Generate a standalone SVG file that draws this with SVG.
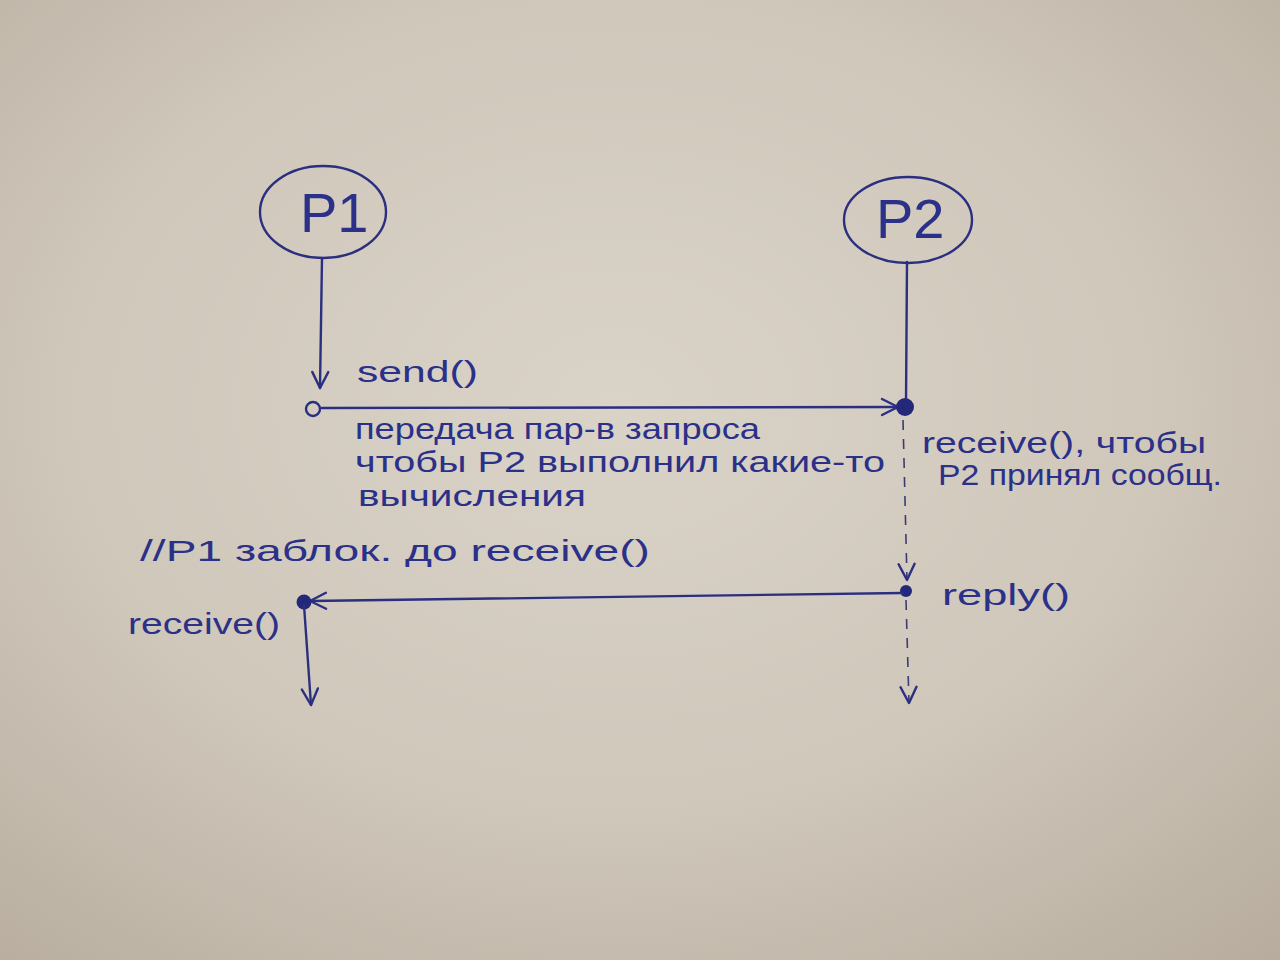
<svg xmlns="http://www.w3.org/2000/svg" width="1280" height="960" viewBox="0 0 1280 960">
  <defs>
    <radialGradient id="paper" cx="0.48" cy="0.42" r="0.78">
      <stop offset="0" stop-color="#dad3c8"/>
      <stop offset="0.55" stop-color="#cfc7ba"/>
      <stop offset="1" stop-color="#b7ac9e"/>
    </radialGradient>
    <marker id="open" viewBox="0 0 20 20" refX="18" refY="10" markerWidth="20" markerHeight="20" markerUnits="userSpaceOnUse" orient="auto">
      <path d="M2 2 L18 10 L2 18" fill="none" stroke="#2b2f80" stroke-width="2.4" stroke-linecap="round" stroke-linejoin="round"/>
    </marker>
    <style>
      .ink { stroke: #2b2f80; stroke-width: 2.4; fill: none; stroke-linecap: round; }
      .dash { stroke: #3b3d70; stroke-width: 1.6; fill: none; stroke-dasharray: 10 9; }
      .dot { fill: #23287a; }
      .t { font-family: "Liberation Sans", "DejaVu Sans", sans-serif; fill: #2b3088; }
      .big { font-size: 56px; }
      .lbl { font-size: 30px; }
    </style>
  </defs>
  <rect x="0" y="0" width="1280" height="960" fill="url(#paper)"/>

  <g id="P1">
    <ellipse cx="323" cy="212" rx="63" ry="46" class="ink"/>
    <text class="t big" x="300" y="232">P1</text>
  </g>
  <g id="P2">
    <ellipse cx="908" cy="220" rx="64" ry="43" class="ink"/>
    <text class="t big" x="876" y="238">P2</text>
  </g>

  <g id="connectors">
    <line x1="322" y1="258" x2="320" y2="388" class="ink" marker-end="url(#open)"/>
    <circle cx="313" cy="409" r="7" class="ink"/>
    <line x1="322" y1="408" x2="898" y2="407" class="ink" marker-end="url(#open)"/>
    <line x1="907" y1="262" x2="906" y2="402" class="ink"/>
    <circle cx="905" cy="407" r="9" class="dot"/>
    <line x1="903" y1="420" x2="907" y2="580" class="dash" marker-end="url(#open)"/>
    <circle cx="906" cy="591" r="6" class="dot"/>
    <line x1="903" y1="593" x2="310" y2="601" class="ink" marker-end="url(#open)"/>
    <circle cx="304" cy="602" r="7.5" class="dot"/>
    <line x1="304" y1="605" x2="311" y2="705" class="ink" marker-end="url(#open)"/>
    <line x1="906" y1="600" x2="909" y2="703" class="dash" marker-end="url(#open)"/>
  </g>

  <g id="labels">
    <text class="t lbl" x="357" y="382" textLength="121" lengthAdjust="spacingAndGlyphs">send()</text>
    <text class="t lbl" x="355" y="439" textLength="405" lengthAdjust="spacingAndGlyphs">передача пар-в запроса</text>
    <text class="t lbl" x="355" y="472" textLength="530" lengthAdjust="spacingAndGlyphs">чтобы P2 выполнил какие-то</text>
    <text class="t lbl" x="358" y="506" textLength="228" lengthAdjust="spacingAndGlyphs">вычисления</text>
    <text class="t lbl" x="922" y="453" textLength="284" lengthAdjust="spacingAndGlyphs">receive(), чтобы</text>
    <text class="t lbl" x="938" y="485" textLength="284" lengthAdjust="spacingAndGlyphs">P2 принял сообщ.</text>
    <text class="t lbl" x="140" y="561" textLength="510" lengthAdjust="spacingAndGlyphs">//P1 заблок. до receive()</text>
    <text class="t lbl" x="128" y="634" textLength="152" lengthAdjust="spacingAndGlyphs">receive()</text>
    <text class="t lbl" x="942" y="605" textLength="128" lengthAdjust="spacingAndGlyphs">reply()</text>
  </g>
</svg>
